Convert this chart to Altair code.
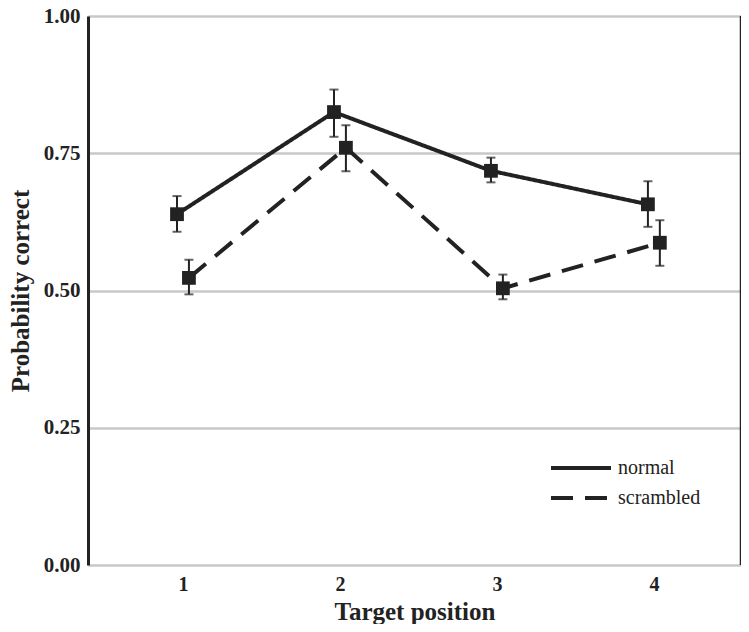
import altair as alt
import pandas as pd

positions = [1, 2, 3, 4]
groups = ["normal", "scrambled"]
normal_mean = [0.639, 0.825, 0.718, 0.657]
normal_lo = [0.607, 0.780, 0.697, 0.616]
normal_hi = [0.672, 0.866, 0.742, 0.699]
scrambled_mean = [0.523, 0.760, 0.504, 0.587]
scrambled_lo = [0.493, 0.717, 0.484, 0.545]
scrambled_hi = [0.556, 0.801, 0.529, 0.628]

rows = []
for i, p in enumerate(positions):
    rows.append({"pos": p, "group": "normal", "mean": normal_mean[i], "lo": normal_lo[i], "hi": normal_hi[i]})
    rows.append({"pos": p, "group": "scrambled", "mean": scrambled_mean[i], "lo": scrambled_lo[i], "hi": scrambled_hi[i]})
df = pd.DataFrame(rows)

W, H = 653, 549
FONT = "Liberation Serif"
INK = "#222"
xscale = alt.Scale(domain=[0.395, 4.555], nice=False, zero=False)
yscale = alt.Scale(domain=[0, 1], nice=False)

base = alt.Chart(df).transform_calculate(
    xp="datum.pos + (datum.group === 'normal' ? -0.038 : 0.038)"
)

xenc = alt.X("xp:Q", scale=xscale, title="Target position",
             axis=alt.Axis(values=positions, format="d", domain=False, ticks=False, grid=False,
                           labelFont=FONT, labelFontSize=20, labelFontWeight="bold", labelColor=INK,
                           labelPadding=9, titleFont=FONT, titleFontSize=25, titleFontWeight="bold",
                           titleColor=INK, titlePadding=5))
yenc = alt.Y("mean:Q", scale=yscale, title="Probability correct",
             axis=alt.Axis(values=[0, 0.25, 0.5, 0.75, 1.0], format=".2f", domainColor=INK,
                           domainWidth=3, ticks=False, gridColor="#c8c8c8", gridWidth=2.5,
                           labelFont=FONT, labelFontSize=21, labelFontWeight="bold", labelColor=INK,
                           labelPadding=8, titleFont=FONT, titleFontSize=25, titleFontWeight="bold",
                           titleColor=INK, titlePadding=10))

lines = base.mark_line(color=INK, strokeWidth=4).encode(
    x=xenc, y=yenc,
    strokeDash=alt.StrokeDash("group:N", scale=alt.Scale(domain=groups, range=[[1, 0], [22, 12]]),
                              legend=alt.Legend(title=None, orient="none", legendX=481, legendY=440,
                                                symbolType="M-3,0L3,0", symbolSize=400, symbolStrokeWidth=4,
                                                symbolStrokeColor=INK, labelFont=FONT, labelFontSize=20,
                                                labelColor=INK, rowPadding=8, labelOffset=25)),
)

rules = base.mark_rule(color=INK, strokeWidth=2).encode(
    x="xp:Q", y=alt.Y("lo:Q", scale=yscale), y2="hi:Q"
)
caps_lo = base.mark_tick(color=INK, orient="horizontal", size=9, thickness=2).encode(
    x="xp:Q", y=alt.Y("lo:Q", scale=yscale))
caps_hi = base.mark_tick(color=INK, orient="horizontal", size=9, thickness=2).encode(
    x="xp:Q", y=alt.Y("hi:Q", scale=yscale))
points = base.mark_point(shape="square", filled=True, size=190, color=INK, opacity=1).encode(
    x="xp:Q", y=alt.Y("mean:Q", scale=yscale)
)

right = alt.Chart(pd.DataFrame({"k": [0]})).mark_rule(color=INK, strokeWidth=2.5).encode(
    x=alt.value(W), y=alt.value(0), y2=alt.value(H)
)

chart = alt.layer(lines, rules, caps_lo, caps_hi, points, right).properties(
    width=W, height=H,
    autosize=alt.AutoSizeParams(type="none"),
    padding={"left": 80, "top": 8, "right": 0, "bottom": 59},
).configure_view(stroke=None).configure(background="white")

chart.save("out.html", embed_options={"renderer": "svg", "actions": False})
